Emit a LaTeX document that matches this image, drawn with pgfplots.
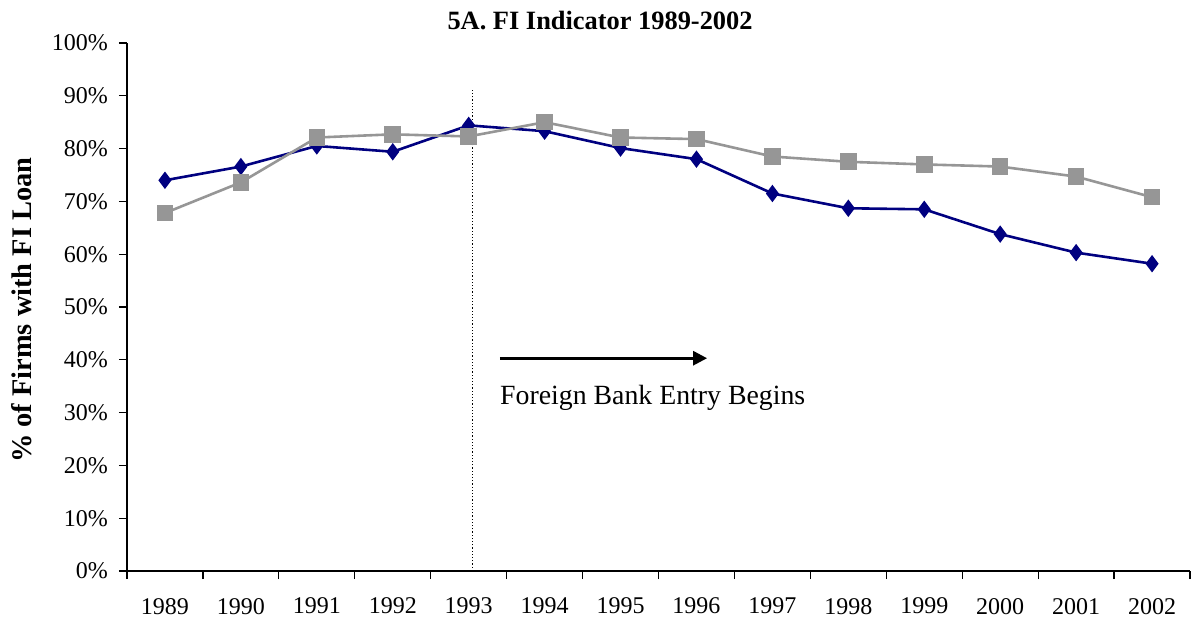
\documentclass[border=0pt]{standalone}
\usepackage{pgfplots}
\pgfplotsset{compat=1.18}
\usetikzlibrary{arrows.meta}
\usepackage{fontspec}
\setmainfont{Liberation Serif}
\definecolor{navy}{RGB}{0,0,128}
\definecolor{mgray}{RGB}{150,150,150}
\begin{document}
\begin{tikzpicture}
\begin{axis}[
  scale only axis,
  width=531.5pt, height=264pt,
  xmin=-0.5, xmax=13.5, ymin=0, ymax=100,
  axis x line*=bottom, axis y line*=left,
  axis line style={-, line width=0.6pt},
  xtick={-0.5,0.5,...,13.5},
  xticklabels={},
  extra x ticks={0,...,13},
  extra x tick labels={1989,1990,1991,1992,1993,1994,1995,1996,1997,1998,1999,2000,2001,2002},
  extra x tick style={major tick length=0pt, xticklabel style={yshift=-10pt}},
  major tick length=4pt,
  tick align=outside,
  tick style={line width=0.6pt, black},
  ytick={0,10,...,100},
  yticklabel={\pgfmathprintnumber{\tick}\%},
  /pgf/number format/assume math mode=true,
  ticklabel style={font=\fontsize{12}{14}\selectfont},
  yticklabel style={xshift=-2pt},
  clip=false,
]
\addplot[navy, line width=1.3pt, mark=diamond*, mark size=3.3pt, mark options={solid}] coordinates {
(0,74.0) (1,76.6) (2,80.5) (3,79.4) (4,84.4) (5,83.3) (6,80.1) (7,78.0) (8,71.5) (9,68.7) (10,68.5) (11,63.8) (12,60.3) (13,58.2)};
\addplot[mgray, line width=1.3pt, mark=square*, mark size=3.5pt] coordinates {
(0,67.8) (1,73.6) (2,82.1) (3,82.7) (4,82.3) (5,85.0) (6,82.1) (7,81.8) (8,78.5) (9,77.5) (10,77.0) (11,76.6) (12,74.7) (13,70.8)};
\draw[densely dotted, line width=0.6pt] (axis cs:4.05,0) -- (axis cs:4.05,91.5);
\draw[-{Triangle[length=7pt,width=7pt]}, line width=1.4pt] (axis cs:4.41,40.3) -- (axis cs:7.14,40.3);
\node[anchor=west, inner sep=0pt, font=\fontsize{13.9}{16}\selectfont] at (axis cs:4.41,32.7) {Foreign Bank Entry Begins};
\node[font=\bfseries\fontsize{13.2}{15}\selectfont] at (rel axis cs:0.445,1.042) {5A. FI Indicator 1989-2002};
\node[rotate=90, font=\bfseries\fontsize{14.2}{16}\selectfont] at (rel axis cs:-0.0988,0.494) {\% of Firms with FI Loan};
\coordinate (bl) at ([shift={(-63.5pt,-25pt)}]rel axis cs:0,0);
\coordinate (tr) at ([shift={(0.5pt,21.5pt)}]rel axis cs:1,1);
\end{axis}
\pgfresetboundingbox
\path[use as bounding box] (bl) rectangle (tr);
\end{tikzpicture}
\end{document}
